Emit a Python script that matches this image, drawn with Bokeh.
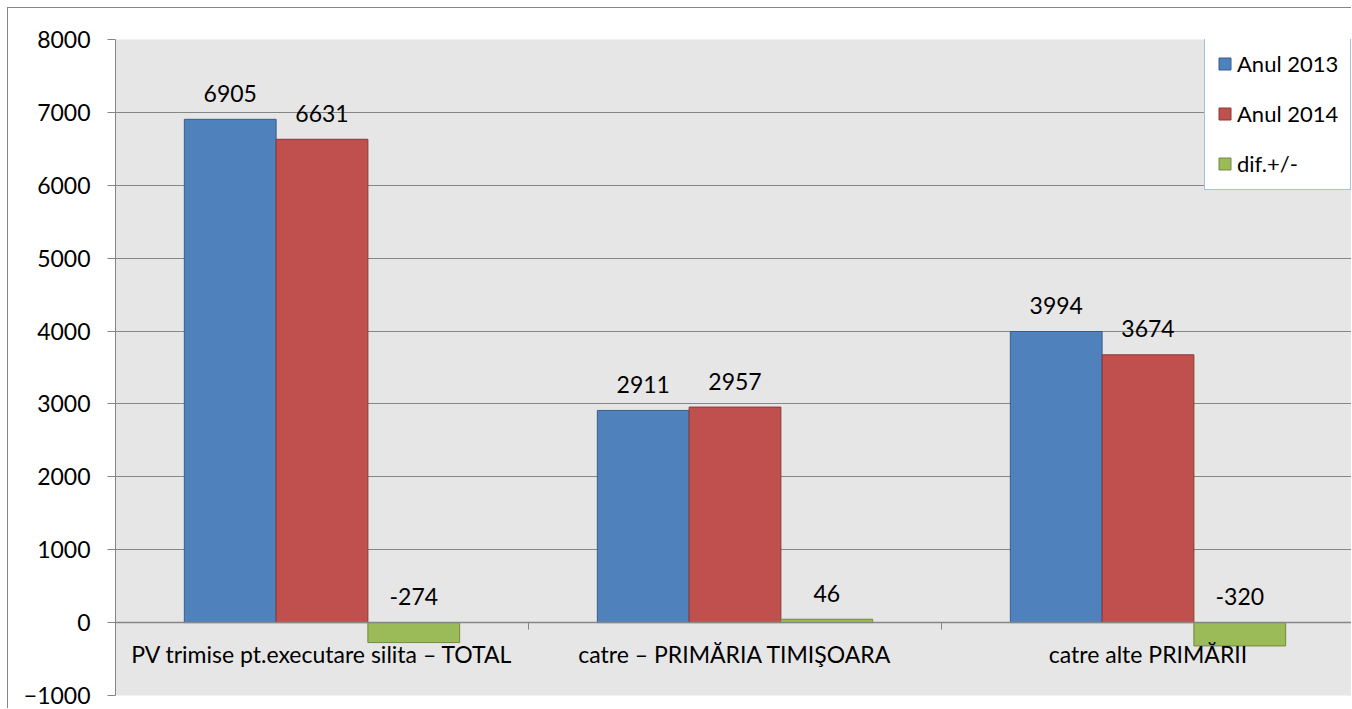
import numpy as np
from bokeh.plotting import figure
from bokeh.models import Range1d, FixedTicker, Span, Legend, LegendItem
from bokeh.core.properties import value
from bokeh.embed import file_html
from bokeh.resources import INLINE

# ---- data ----
categories = ["PV trimise pt.executare silita – TOTAL",
              "catre – PRIMĂRIA TIMIŞOARA",
              "catre alte PRIMĂRII"]
series_names = ["Anul 2013", "Anul 2014", "dif.+/-"]
anul_2013 = [6905, 2911, 3994]
anul_2014 = [6631, 2957, 3674]
diferenta = [-274, 46, -320]
y_ticks = [-1000, 0, 1000, 2000, 3000, 4000, 5000, 6000, 7000, 8000]

# ---- styles ----
FONT = "Lato"
FS = "23px"
GRID = "#868686"
fills = ["#4f81bd", "#c0504d", "#9bbb59"]
lines = ["#385d8a", "#8c3836", "#71893f"]

n = len(categories)
cat_px = 413.0
frame_w = 1237
p = figure(width=1344, height=701, output_backend="svg", toolbar_location=None,
           x_range=Range1d(0, frame_w / cat_px), y_range=Range1d(-1000, 8000),
           x_axis_type=None,
           min_border_left=107, min_border_right=0, min_border_top=31, min_border_bottom=14)
p.styles = {"margin-left": "7px", "margin-top": "7px",
            "border-left": "1px solid #868686", "border-top": "1px solid #868686"}
p.background_fill_color = "#e6e6e6"
p.border_fill_color = "white"
p.outline_line_color = None

p.yaxis.ticker = FixedTicker(ticks=y_ticks)
p.yaxis.axis_line_color = GRID
p.yaxis.major_tick_line_color = GRID
p.yaxis.major_tick_out = 8
p.yaxis.major_tick_in = 0
p.yaxis.minor_tick_line_color = None
p.yaxis.major_label_text_font = FONT
p.yaxis.major_label_text_font_size = FS
p.yaxis.major_label_text_color = "black"
p.yaxis.major_label_standoff = 17
p.xgrid.visible = False
p.ygrid.ticker = FixedTicker(ticks=y_ticks)
p.ygrid.grid_line_color = GRID
p.ygrid.grid_line_width = 1

centers = np.arange(n) + 0.5
w = 1.0 / (3 + 1.5)
series = [anul_2013, anul_2014, diferenta]
offsets = [-w, 0.0, w]
renderers = []
for vals, off, fc, lc in zip(series, offsets, fills, lines):
    xs = centers + off
    r = p.vbar(x=xs, top=vals, bottom=0, width=w, fill_color=fc, line_color=lc, line_width=1)
    renderers.append(r)
    p.text(x=xs, y=np.maximum(np.array(vals), 0), text=[str(v) for v in vals],
           text_align="center", text_baseline="alphabetic", y_offset=-26,
           text_font=value(FONT), text_font_size=FS, text_color="black")

# zero (category) axis line and boundary ticks
p.add_layout(Span(location=0, dimension="width", line_color=GRID, line_width=1.5))
bounds = np.arange(1, n)
p.ray(x=bounds, y=np.zeros(len(bounds)), length=7, length_units="screen",
      angle=-np.pi / 2, line_color=GRID, line_width=1)

# category labels under the zero line
p.text(x=centers, y=np.zeros(n), text=categories, text_align="center",
       text_baseline="alphabetic", y_offset=31,
       text_font=value(FONT), text_font_size=FS, text_color="black")

legend = Legend(items=[LegendItem(label=s, renderers=[r]) for s, r in zip(series_names, renderers)],
                location=(1089, 505))
legend.label_text_font = FONT
legend.label_text_font_size = "22px"
legend.label_text_color = "black"
legend.glyph_width = 15
legend.glyph_height = 15
legend.label_standoff = 5
legend.padding = 12
legend.spacing = 22
legend.label_height = 28
legend.margin = 0
legend.border_line_color = "#4f81bd"
legend.border_line_width = 1
legend.background_fill_color = "white"
legend.background_fill_alpha = 1
p.add_layout(legend)

open("out.html", "w").write(file_html(p, INLINE))
